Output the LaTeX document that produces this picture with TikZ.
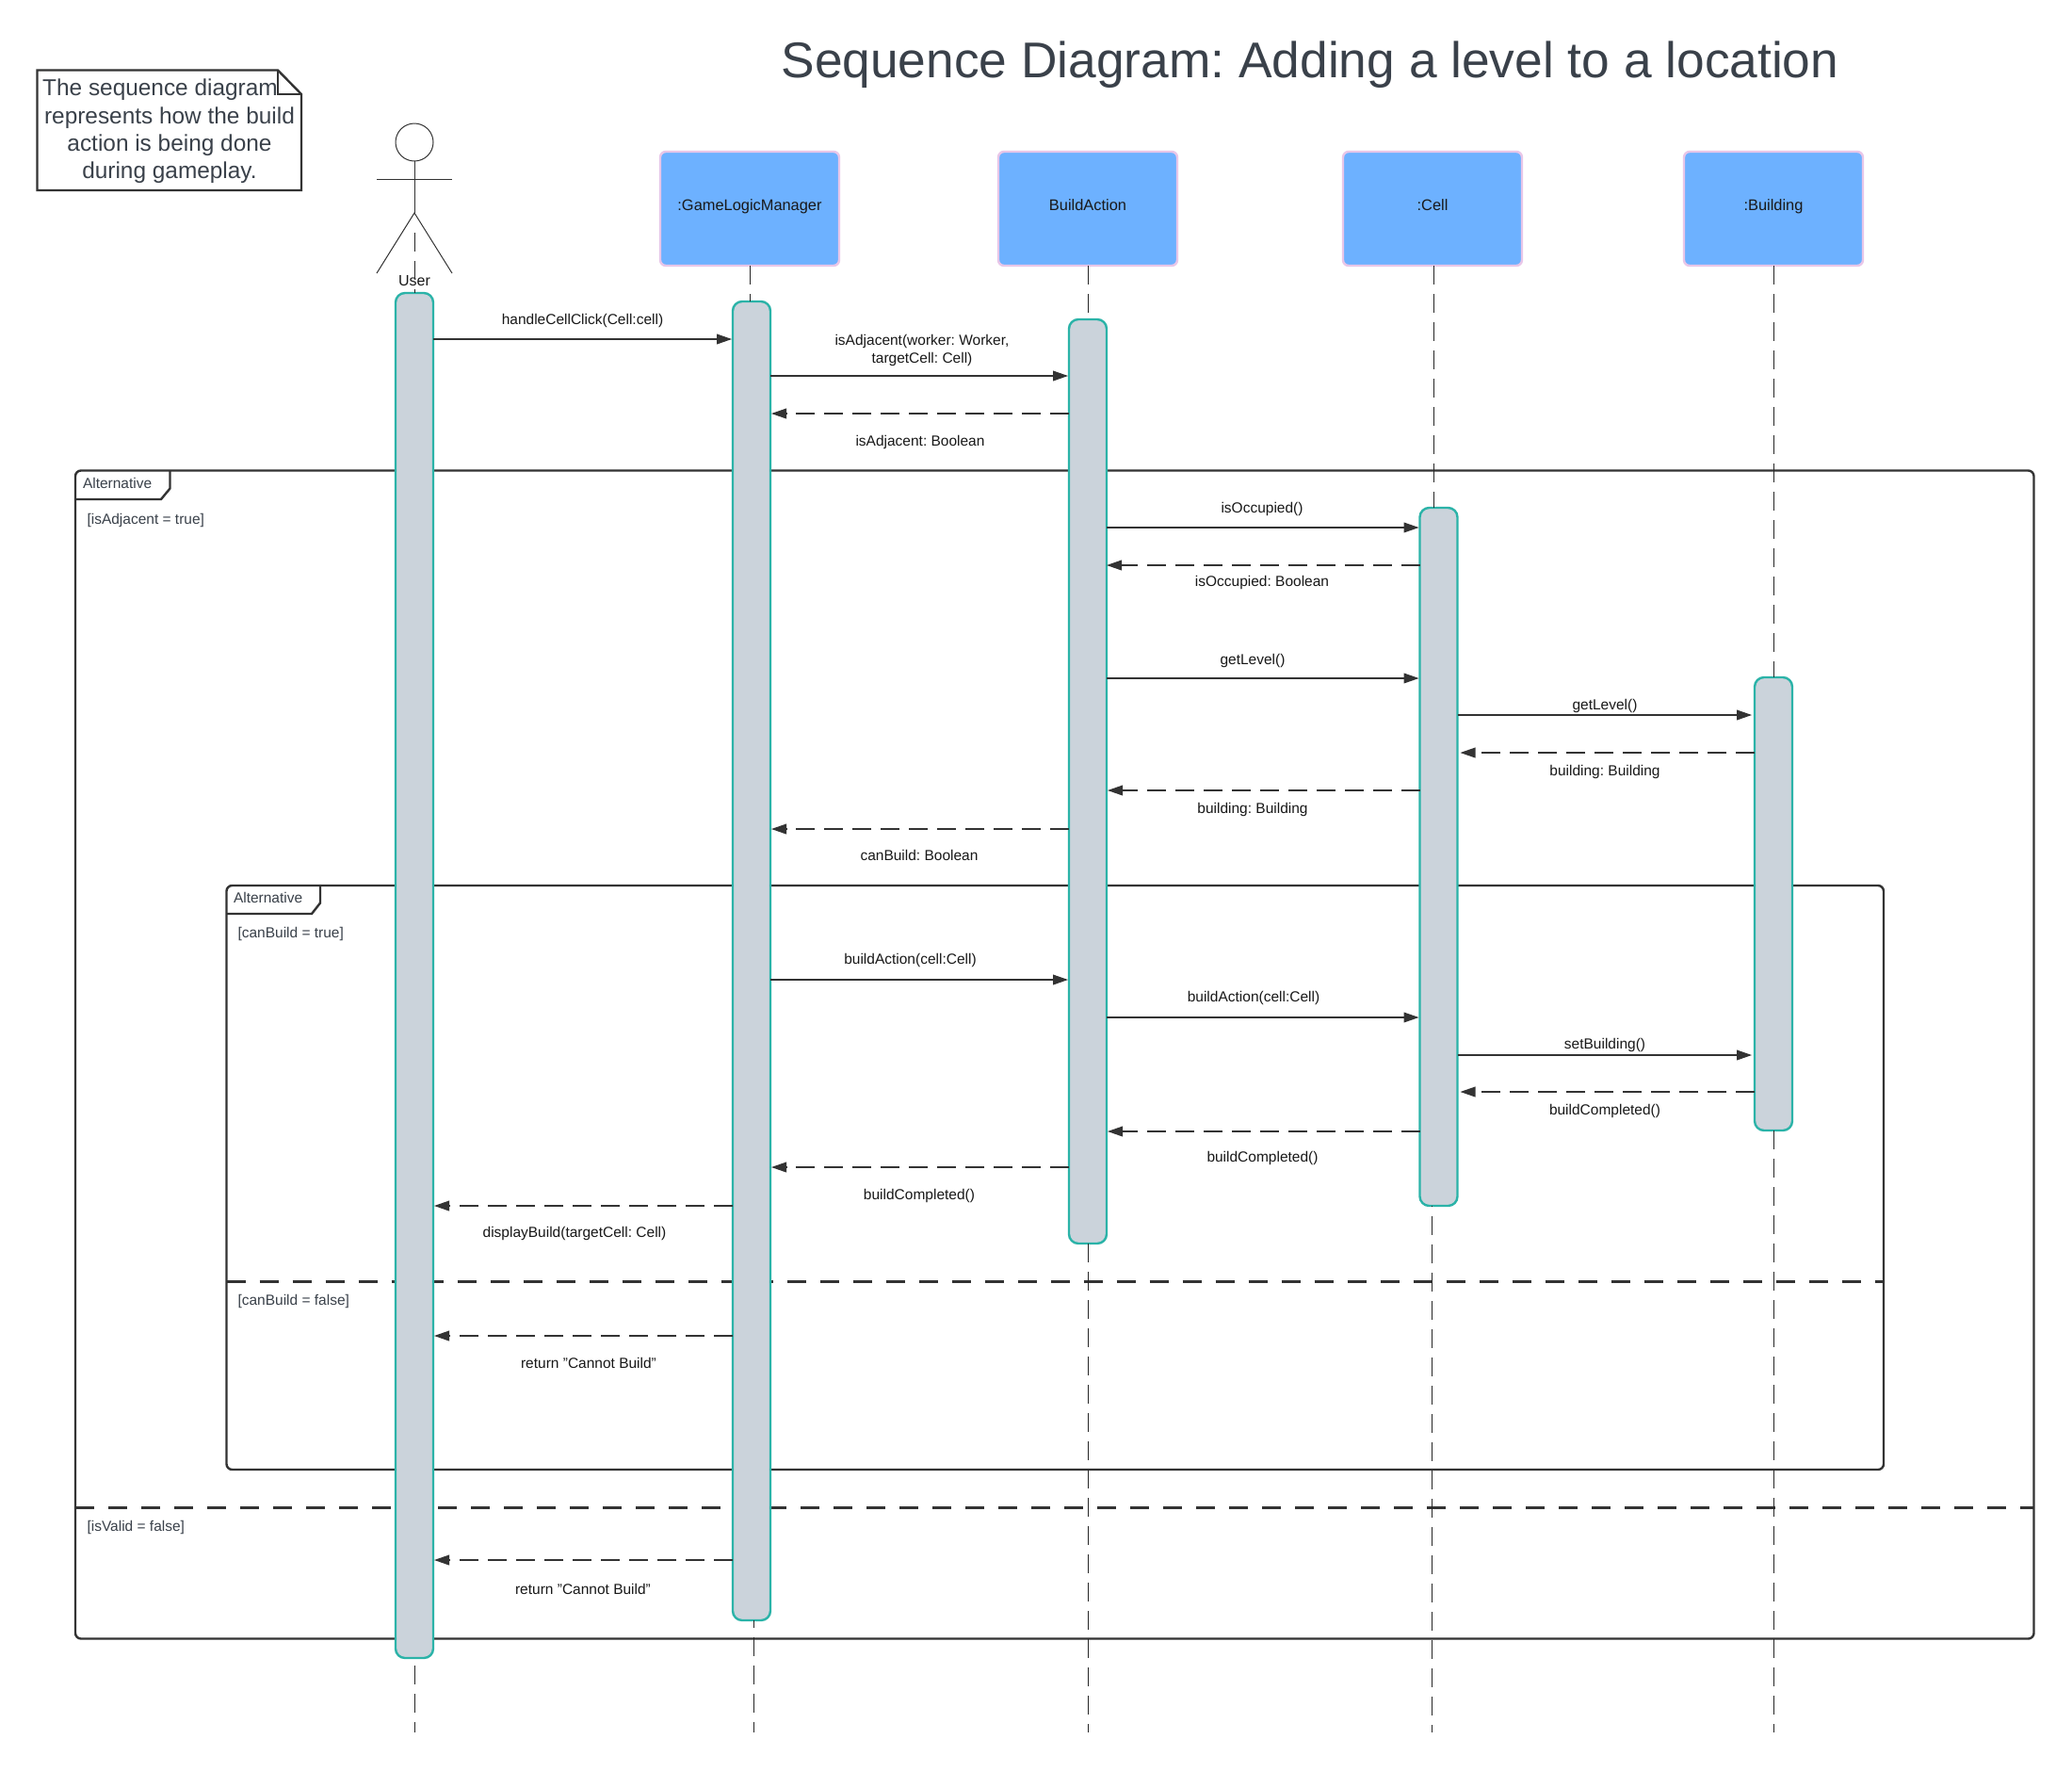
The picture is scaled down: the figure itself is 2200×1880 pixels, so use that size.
\documentclass[tikz,border=0pt]{standalone}
\usepackage{fontspec}
\setmainfont{Liberation Sans}
\usetikzlibrary{arrows.meta}
\definecolor{ink}{HTML}{333333}
\definecolor{slate}{HTML}{3A414A}
\definecolor{boxblue}{HTML}{6DB1FF}
\definecolor{boxpink}{HTML}{E8C6E8}
\definecolor{teal2}{HTML}{2BB3A8}
\definecolor{actgrey}{HTML}{CBD3DB}
\tikzset{
  lbl/.style={inner sep=0pt,outer sep=0pt,align=center,text=black!90,yshift=-0.5pt,text height=5.8pt,text depth=1.6pt,font=\fontsize{7.75}{9.5}\selectfont\frenchspacing},
  guard/.style={inner sep=0pt,outer sep=0pt,anchor=west,text=slate,yshift=-0.5pt,text height=5.8pt,text depth=1.6pt,font=\fontsize{7.75}{9.5}\selectfont\frenchspacing},
  lifebox/.style={draw=boxpink,fill=boxblue,line width=1.2pt,rounded corners=3pt,inner sep=0pt,outer sep=0pt,minimum width=95pt,minimum height=60.5pt,text height=6pt,text depth=3.6pt,font=\fontsize{8.2}{10}\selectfont,text=black!90},
  actbar/.style={draw=teal2,fill=actgrey,line width=1.2pt,rounded corners=5pt,inner sep=0pt,outer sep=0pt,minimum width=20pt},
  life/.style={draw=black!85,line width=0.5pt,dash pattern=on 10pt off 5pt},
  msg/.style={draw=ink,line width=0.55pt,-{Triangle[length=8pt,width=5.4pt,fill=ink]},shorten >=0.5pt},
  ret/.style={draw=ink,line width=0.55pt,dash pattern=on 10pt off 5pt,-{Triangle[length=8pt,width=5.4pt,fill=ink]},shorten >=0.5pt},
  altframe/.style={draw=ink,line width=1.2pt,rounded corners=3pt,inner sep=0pt,outer sep=0pt},
  altdash/.style={draw=ink,line width=1.5pt,dash pattern=on 10pt off 7.5pt},
  tab/.style={draw=ink,line width=1.2pt},
  stick/.style={draw=ink,line width=0.5pt}
}
\begin{document}
\begin{tikzpicture}[x=0.5pt,y=-0.5pt]
\path[fill=white,use as bounding box] (0,0) rectangle (2200,1880);

% title and note
\node[inner sep=0pt,anchor=base,text=slate,font=\fontsize{26.65}{30}\selectfont\frenchspacing] (title) at (1391,82) {Sequence Diagram: Adding a level to a location};
\draw[draw=ink,line width=1.2pt] (39.5,74.5) -- (295,74.5) -- (320,100) -- (320,202) -- (39.5,202) -- cycle;
\draw[draw=ink,line width=1.2pt] (295,74.5) -- (295,100) -- (320,100);
\node[inner sep=0pt,align=center,text=slate,font=\fontsize{12.2}{14.7}\selectfont] (note) at (180,139.5) {The sequence diagram\rule{10pt}{0pt}\\represents how the build\\action is being done\\during gameplay.};

% frames
\node[altframe,minimum width=1039.75pt,minimum height=620pt] (fOuter) at (1119.75,1119.5) {};
\draw[tab] (80,530) -- (171,530) -- (180.5,518.5) -- (180.5,499.5);
\node[guard] (tOuter) at (88,513) {Alternative};
\node[guard] (gA) at (92.5,551) {[isAdjacent = true]};
\node[altframe,minimum width=879.75pt,minimum height=310pt] (fInner) at (1120.25,1250) {};
\draw[tab] (240.5,970) -- (331,970) -- (340,958.5) -- (340,940);
\node[guard] (tInner) at (248,953) {Alternative};
\node[guard] (gB) at (252.5,990) {[canBuild = true]};
\node[guard] (gC) at (252.5,1380) {[canBuild = false]};
\node[guard] (gD) at (92.5,1620) {[isValid = false]};
\draw[altdash] (fInner.west |- 0,1360) -- (fInner.east |- 0,1360);
\draw[altdash] (fOuter.west |- 0,1600) -- (fOuter.east |- 0,1600);

% lifeline heads
\node[lifebox] (bGLM) at (796,221.5) {:GameLogicManager};
\node[lifebox] (bBA) at (1155,221.5) {BuildAction};
\node[lifebox] (bCell) at (1521,221.5) {:Cell};
\node[lifebox] (bBuild) at (1883,221.5) {:Building};

% actor
\node[circle,draw=ink,line width=0.5pt,minimum size=20pt,inner sep=0pt,outer sep=0pt] (uHead) at (440,151) {};
\coordinate (uHip) at (440,226);
\coordinate (uArmL) at (400,190);
\coordinate (uArmR) at (480,190);
\coordinate (uFootL) at (400,290);
\coordinate (uFootR) at (480,290);
\draw[stick] (uHead.south) -- (uHip);
\draw[stick] (uArmL) -- (uArmR);
\draw[stick] (uFootL) -- (uHip) -- (uFootR);
\node[lbl,font=\fontsize{8}{10}\selectfont] (uName) at (440,298) {User};
\coordinate (uLife) at (440,247);

% activation bars
\node[actbar,minimum height=724.5pt] (aUser) at (440,1035.5) {};
\node[actbar,minimum height=700pt] (aGLM) at (798,1020) {};
\node[actbar,minimum height=490.5pt] (aBA) at (1155,829.5) {};
\node[actbar,minimum height=370.5pt] (aCell) at (1527.5,909.5) {};
\node[actbar,minimum height=240.5pt] (aBuild) at (1883,959.5) {};

% lifelines
\coordinate (eUser) at (440,1839);
\coordinate (eGLM) at (800,1839);
\coordinate (eBA) at (1155,1839);
\coordinate (eCell) at (1520,1839);
\coordinate (eBuild) at (1883,1839);
\draw[life] (uLife) -- (uLife |- aUser.north);
\draw[life] (bGLM.south) -- (bGLM.south |- aGLM.north);
\draw[life] (bBA.south) -- (bBA.south |- aBA.north);
\draw[life] ([xshift=0.5pt]bCell.south) -- ([xshift=0.5pt]bCell.south |- aCell.north);
\draw[life] (bBuild.south) -- (bBuild.south |- aBuild.north);
\draw[life,dash phase=11pt] (aUser.south -| eUser) -- (eUser);
\draw[life,dash phase=6.25pt] (aGLM.south -| eGLM) -- (eGLM);
\draw[life] (aBA.south -| eBA) -- (eBA);
\draw[life,dash phase=9.5pt] (aCell.south -| eCell) -- (eCell);
\draw[life] (aBuild.south -| eBuild) -- (eBuild);

% messages
\draw[msg] (aUser.east |- 0,360) -- (aGLM.west |- 0,360);
\node[lbl] (m1) at (618.5,339.5) {handleCellClick(Cell:cell)};
\draw[msg] (aGLM.east |- 0,399) -- (aBA.west |- 0,399);
\node[lbl] (m2) at (979,380.5) {isAdjacent(worker: Worker,\\targetCell: Cell)};
\draw[ret] (aBA.west |- 0,439) -- (aGLM.east |- 0,439);
\node[lbl] (m3) at (977,468) {isAdjacent: Boolean};
\draw[msg] (aBA.east |- 0,560) -- (aCell.west |- 0,560);
\node[lbl] (m4) at (1340,539) {isOccupied()};
\draw[ret,shorten >=0pt] (aCell.west |- 0,600) -- (aBA.east |- 0,600);
\node[lbl] (m5) at (1340,617) {isOccupied: Boolean};
\draw[msg] (aBA.east |- 0,720) -- (aCell.west |- 0,720);
\node[lbl] (m6) at (1330,700.5) {getLevel()};
\draw[msg,shorten >=1.5pt] (aCell.east |- 0,759) -- (aBuild.west |- 0,759);
\node[lbl] (m7) at (1704,748) {getLevel()};
\draw[ret,shorten >=1.5pt] (aBuild.west |- 0,799) -- (aCell.east |- 0,799);
\node[lbl] (m8) at (1704,818) {building: Building};
\draw[ret] (aCell.west |- 0,839) -- (aBA.east |- 0,839);
\node[lbl] (m9) at (1330,858) {building: Building};
\draw[ret] (aBA.west |- 0,880) -- (aGLM.east |- 0,880);
\node[lbl] (m10) at (976,908) {canBuild: Boolean};
\draw[msg] (aGLM.east |- 0,1040) -- (aBA.west |- 0,1040);
\node[lbl] (m11) at (966.5,1018) {buildAction(cell:Cell)};
\draw[msg] (aBA.east |- 0,1080) -- (aCell.west |- 0,1080);
\node[lbl] (m12) at (1331,1058) {buildAction(cell:Cell)};
\draw[msg,shorten >=1.5pt] (aCell.east |- 0,1120) -- (aBuild.west |- 0,1120);
\node[lbl] (m13) at (1704,1108) {setBuilding()};
\draw[ret,shorten >=1.5pt] (aBuild.west |- 0,1159) -- (aCell.east |- 0,1159);
\node[lbl] (m14) at (1704,1178) {buildCompleted()};
\draw[ret] (aCell.west |- 0,1201) -- (aBA.east |- 0,1201);
\node[lbl] (m15) at (1340.5,1228) {buildCompleted()};
\draw[ret] (aBA.west |- 0,1239) -- (aGLM.east |- 0,1239);
\node[lbl] (m16) at (976,1268) {buildCompleted()};
\draw[ret] (aGLM.west |- 0,1280) -- (aUser.east |- 0,1280);
\node[lbl] (m17) at (610,1308) {displayBuild(targetCell: Cell)};
\draw[ret] (aGLM.west |- 0,1418) -- (aUser.east |- 0,1418);
\node[lbl] (m18) at (625,1447) {return "Cannot Build"};
\draw[ret] (aGLM.west |- 0,1656) -- (aUser.east |- 0,1656);
\node[lbl] (m19) at (619,1687) {return "Cannot Build"};
\end{tikzpicture}
\end{document}
